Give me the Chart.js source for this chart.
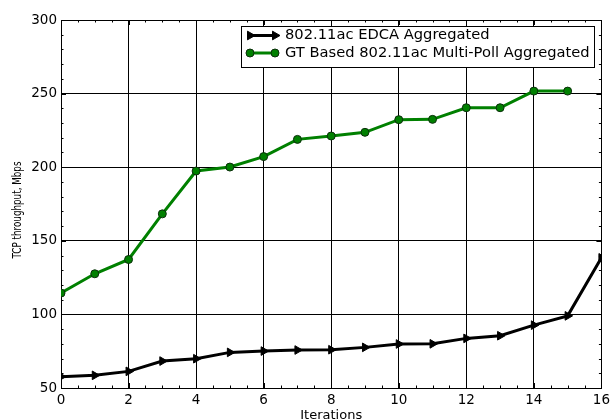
<!DOCTYPE html>
<html>
<head>
<meta charset="utf-8">
<script src="https://cdn.jsdelivr.net/npm/chart.js@4/dist/chart.umd.min.js"></script>
<style>
  html, body { margin: 0; padding: 0; background: #fff; }
  canvas { display: block; }
</style>
</head>
<body>
<canvas id="chart" width="614" height="420"></canvas>
<script>
const iterations = [0, 1, 2, 3, 4, 5, 6, 7, 8, 9, 10, 11, 12, 13, 14, 15, 16];
const edcaValues = [57.7, 58.6, 61.3, 68.3, 69.9, 74.2, 75.1, 75.8, 76.0, 77.6, 79.9, 80.0, 83.7, 85.5, 92.7, 99.0, 138.4];
const multiPollValues = [114.5, 127.6, 137.3, 168.3, 197.4, 200.1, 207.2, 218.9, 221.2, 223.7, 232.3, 232.5, 240.4, 240.4, 251.7, 251.7];
const seriesLabels = ["802.11ac EDCA Aggregated", "GT Based 802.11ac Multi-Poll Aggregated"];
const xTitle = "Iterations";
const yTitle = "TCP throughput, Mbps";

const FONT = "DejaVu Sans";

const toPoints = (values) => values.map((v, i) => ({ x: iterations[i], y: v }));

// small marker used by the hand-drawn legend
const drawMarker = (ctx, ds, mx, my) => {
  const r = ds.pointRadius;
  ctx.fillStyle = ds.pointBackgroundColor;
  ctx.strokeStyle = ds.pointBorderColor;
  ctx.lineWidth = ds.pointBorderWidth;
  ctx.beginPath();
  if (ds.pointStyle === "circle") {
    ctx.arc(mx, my, r, 0, Math.PI * 2);
  } else {
    ctx.moveTo(mx + r, my);
    ctx.lineTo(mx - r * 0.5, my - r * 0.866);
    ctx.lineTo(mx - r * 0.5, my + r * 0.866);
    ctx.closePath();
  }
  ctx.fill();
  ctx.stroke();
};

// inward ticks (major + minor) on all four sides, frame, titles, legend
const framePlugin = {
  id: "frame",
  beforeDatasetsDraw(chart) {
    const { ctx, chartArea: a, scales } = chart;
    const x = scales.x, y = scales.y;
    ctx.save();
    ctx.strokeStyle = "#000";
    ctx.lineWidth = 1;
    ctx.beginPath();
    for (let v = 0; v <= 16; v += 0.5) {
      const px = Math.round(x.getPixelForValue(v)) + 0.5;
      const len = v % 2 === 0 ? 5 : 2.5;
      ctx.moveTo(px, a.bottom); ctx.lineTo(px, a.bottom - len);
      ctx.moveTo(px, a.top); ctx.lineTo(px, a.top + len);
    }
    for (let v = 50; v <= 300; v += 10) {
      const py = Math.round(y.getPixelForValue(v)) + 0.5;
      const len = v % 50 === 0 ? 5 : 2.5;
      ctx.moveTo(a.left, py); ctx.lineTo(a.left + len, py);
      ctx.moveTo(a.right, py); ctx.lineTo(a.right - len, py);
    }
    ctx.stroke();
    ctx.strokeRect(Math.round(a.left) + 0.5, Math.round(a.top) + 0.5,
      Math.round(a.right - a.left), Math.round(a.bottom - a.top));
    ctx.restore();
  },
  afterDraw(chart) {
    const { ctx, chartArea: a } = chart;
    ctx.save();
    ctx.fillStyle = "#000";

    // axis titles
    ctx.font = `13px "${FONT}"`;
    ctx.textAlign = "center";
    ctx.textBaseline = "top";
    ctx.fillText(xTitle, (a.left + a.right) / 2, 409);

    ctx.save();
    ctx.translate(18, 210);
    ctx.rotate(-Math.PI / 2);
    ctx.font = `12px "${FONT}"`;
    ctx.textBaseline = "middle";
    const w = ctx.measureText(yTitle).width;
    ctx.scale(97 / w, 1);
    ctx.fillText(yTitle, 0, 0);
    ctx.restore();

    // legend
    const bx = 241.5, by = 26.5, bw = 353, bh = 41;
    ctx.fillStyle = "#fff";
    ctx.fillRect(bx, by, bw, bh);
    ctx.strokeStyle = "#000";
    ctx.lineWidth = 1;
    ctx.strokeRect(bx, by, bw, bh);

    const rows = [35.5, 53];
    chart.data.datasets.forEach((ds, i) => {
      const yy = rows[i];
      ctx.strokeStyle = ds.borderColor;
      ctx.lineWidth = ds.borderWidth;
      ctx.beginPath();
      ctx.moveTo(250, yy);
      ctx.lineTo(275, yy);
      ctx.stroke();
      drawMarker(ctx, ds, 250, yy);
      drawMarker(ctx, ds, 275, yy);
      ctx.fillStyle = "#000";
      ctx.font = `14.7px "${FONT}"`;
      ctx.textAlign = "left";
      ctx.textBaseline = "middle";
      ctx.fillText(ds.label, 285, yy);
    });
    ctx.restore();
  },
};

new Chart(document.getElementById("chart"), {
  type: "line",
  data: {
    datasets: [
      {
        label: seriesLabels[0],
        data: toPoints(edcaValues),
        borderColor: "#000",
        borderWidth: 3,
        pointStyle: "triangle",
        pointRotation: 90,
        pointRadius: 5,
        pointBackgroundColor: "#000",
        pointBorderColor: "#000",
        pointBorderWidth: 1,
        tension: 0,
      },
      {
        label: seriesLabels[1],
        data: toPoints(multiPollValues),
        borderColor: "#008000",
        borderWidth: 3,
        pointStyle: "circle",
        pointRadius: 4,
        pointBackgroundColor: "#008000",
        pointBorderColor: "#0b2e0b",
        pointBorderWidth: 1,
        tension: 0,
      },
    ],
  },
  options: {
    responsive: false,
    animation: false,
    devicePixelRatio: 1,
    layout: { padding: { left: 0, right: 12, top: 20, bottom: 0 } },
    plugins: { legend: { display: false }, tooltip: { enabled: false } },
    scales: {
      x: {
        type: "linear",
        min: 0,
        max: 16,
        afterFit: (s) => { s.height = 32; },
        ticks: { stepSize: 2, padding: 4, color: "#000", font: { family: FONT, size: 13.5 }, maxRotation: 0 },
        grid: { color: "#000", lineWidth: 1, drawTicks: false },
        border: { color: "#000" },
      },
      y: {
        min: 50,
        max: 300,
        afterFit: (s) => { s.width = 61; },
        ticks: { stepSize: 50, padding: 4, color: "#000", font: { family: FONT, size: 13.5 } },
        grid: { color: "#000", lineWidth: 1, drawTicks: false },
        border: { color: "#000" },
      },
    },
  },
  plugins: [framePlugin],
});
</script>
</body>
</html>
